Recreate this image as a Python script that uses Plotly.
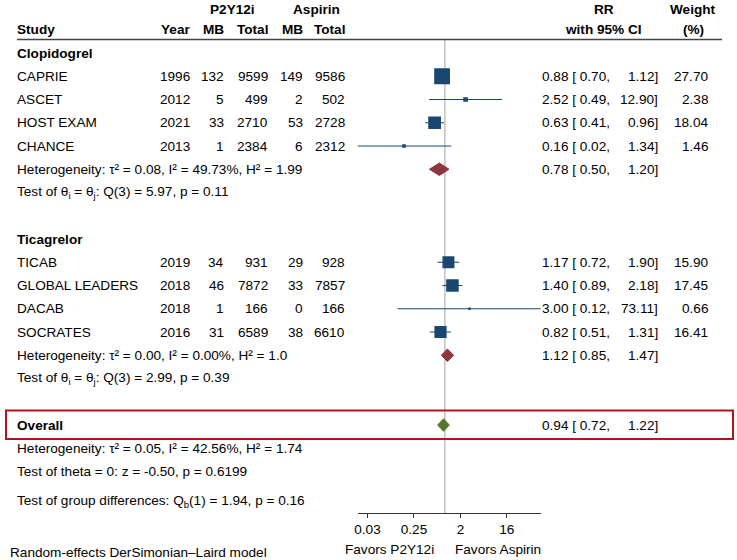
import math
import plotly.graph_objects as go

# ---------------- data ----------------
studies = ["CAPRIE", "ASCET", "HOST EXAM", "CHANCE",
           "TICAB", "GLOBAL LEADERS", "DACAB", "SOCRATES"]
study_group = ["Clopidogrel"] * 4 + ["Ticagrelor"] * 4
years = [1996, 2012, 2021, 2013, 2019, 2018, 2018, 2016]
p2y12_mb = [132, 5, 33, 1, 34, 46, 1, 31]
p2y12_total = [9599, 499, 2710, 2384, 931, 7872, 166, 6589]
aspirin_mb = [149, 2, 53, 6, 29, 33, 0, 38]
aspirin_total = [9586, 502, 2728, 2312, 928, 7857, 166, 6610]
rr = [0.88, 2.52, 0.63, 0.16, 1.17, 1.40, 3.00, 0.82]
rr_lo = [0.70, 0.49, 0.41, 0.02, 0.72, 0.89, 0.12, 0.51]
rr_hi = [1.12, 12.90, 0.96, 1.34, 1.90, 2.18, 73.11, 1.31]
weight = [27.70, 2.38, 18.04, 1.46, 15.90, 17.45, 0.66, 16.41]

groups = ["Clopidogrel", "Ticagrelor"]
group_rr = [0.78, 1.12]
group_lo = [0.50, 0.85]
group_hi = [1.20, 1.47]
group_het = ["Heterogeneity: τ² = 0.08, I² = 49.73%, H² = 1.99",
             "Heterogeneity: τ² = 0.00, I² = 0.00%, H² = 1.0"]
group_test = ["Test of θ<sub>i</sub> = θ<sub>j</sub>: Q(3) = 5.97, p = 0.11",
              "Test of θ<sub>i</sub> = θ<sub>j</sub>: Q(3) = 2.99, p = 0.39"]

overall_rr, overall_lo, overall_hi = 0.94, 0.72, 1.22
overall_het = "Heterogeneity: τ² = 0.05, I² = 42.56%, H² = 1.74"
overall_test = "Test of theta = 0: z = -0.50, p = 0.6199"
group_diff = "Test of group differences: Q<sub>b</sub>(1) = 1.94, p = 0.16"
model_note = "Random-effects DerSimonian–Laird model"

tick_vals = [2 ** -5, 2 ** -2, 2, 16]
tick_text = ["0.03", "0.25", "2", "16"]

# ---------------- layout helpers ----------------
W, H = 737, 560
FONT = "Liberation Sans, Arial, Helvetica, sans-serif"
FS = 13.6
NAVY = "#1a476f"
MAROON = "#90353b"
GREEN = "#55752f"

def px(x):
    return x / W

annotations = []

def txt(x, y, s, anchor="left", bold=False, yref="y", size=FS):
    if bold:
        s = "<b>" + s + "</b>"
    if anchor == "left":
        x -= 3
    annotations.append(dict(x=px(x), y=y, xref="paper", yref=yref, text=s,
                            showarrow=False, xanchor=anchor, yanchor="middle",
                            borderpad=0, borderwidth=0,
                            font=dict(family=FONT, size=size, color="#000")))

# column positions (pixels)
X_STUDY, X_YEAR, X_PMB, X_PTOT, X_AMB, X_ATOT = 17, 188, 222, 266, 301, 343
X_EST, X_HI, X_W = 544, 658, 708

# assign rows
study_rows = []
group_hdr_rows, group_het_rows, group_test_rows = [], [], []
row = 0
for g in groups:
    group_hdr_rows.append(row)
    row += 1
    for i, sg in enumerate(study_group):
        if sg == g:
            study_rows.append((i, row))
            row += 1
    group_het_rows.append(row)
    group_test_rows.append(row + 1)
    row += 3
overall_row = row
overall_het_row = row + 1
overall_test_row = row + 2
group_diff_row = row + 3.3

row_idx = {i: r for i, r in study_rows}
ys = [row_idx[i] for i in range(len(studies))]

# ---------------- traces ----------------
fig = go.Figure()

# CI lines
cx, cy = [], []
for i in range(len(studies)):
    cx += [rr_lo[i], rr_hi[i], None]
    cy += [ys[i], ys[i], None]
fig.add_trace(go.Scatter(x=cx, y=cy, mode="lines",
                         line=dict(color=NAVY, width=1), hoverinfo="skip",
                         showlegend=False))

# squares (area proportional to weight)
fig.add_trace(go.Scatter(x=rr, y=ys, mode="markers",
                         marker=dict(symbol="square", color=NAVY, opacity=1,
                                     size=[3 * math.sqrt(w) for w in weight],
                                     line=dict(width=0)),
                         showlegend=False, hoverinfo="skip"))

DH = 0.27
def diamond(est, lo, hi, r, color):
    fig.add_trace(go.Scatter(x=[lo, est, hi, est, lo],
                             y=[r, r - DH, r, r + DH, r],
                             mode="lines", fill="toself", fillcolor=color,
                             line=dict(color=color, width=1),
                             showlegend=False, hoverinfo="skip"))

for k, g in enumerate(groups):
    diamond(group_rr[k], group_lo[k], group_hi[k], group_het_rows[k], MAROON)
diamond(overall_rr, overall_lo, overall_hi, overall_row, GREEN)

# ---------------- text ----------------
HDR1, HDR2 = -1.85, -1.03
txt(X_STUDY, HDR2, "Study", bold=True)
txt(X_YEAR, HDR2, "Year", "right", bold=True)
txt(X_PMB, HDR2, "MB", "right", bold=True)
txt(X_PTOT, HDR2, "Total", "right", bold=True)
txt(X_AMB, HDR2, "MB", "right", bold=True)
txt(X_ATOT, HDR2, "Total", "right", bold=True)
txt(230, HDR1, "P2Y12i", "center", bold=True)
txt(315, HDR1, "Aspirin", "center", bold=True)
txt(603, HDR1, "RR", "center", bold=True)
txt(603, HDR2, "with 95% CI", "center", bold=True)
txt(693, HDR1, "Weight", "center", bold=True)
txt(693, HDR2, "(%)", "center", bold=True)

def ci_text(est, lo, hi, r):
    txt(X_EST, r, f"{est:.2f} [ {lo:.2f},", "left")
    txt(X_HI, r, f"{hi:.2f}]", "right")

for k, g in enumerate(groups):
    txt(X_STUDY, group_hdr_rows[k], g, bold=True)
    txt(X_STUDY, group_het_rows[k], group_het[k])
    txt(X_STUDY, group_test_rows[k], group_test[k])
    ci_text(group_rr[k], group_lo[k], group_hi[k], group_het_rows[k])

for i in range(len(studies)):
    r = ys[i]
    txt(X_STUDY, r, studies[i])
    txt(X_YEAR, r, str(years[i]), "right")
    txt(X_PMB, r, str(p2y12_mb[i]), "right")
    txt(X_PTOT, r, str(p2y12_total[i]), "right")
    txt(X_AMB, r, str(aspirin_mb[i]), "right")
    txt(X_ATOT, r, str(aspirin_total[i]), "right")
    ci_text(rr[i], rr_lo[i], rr_hi[i], r)
    txt(X_W, r, f"{weight[i]:.2f}", "right")

txt(X_STUDY, overall_row, "Overall", bold=True)
ci_text(overall_rr, overall_lo, overall_hi, overall_row)
txt(X_STUDY, overall_het_row, overall_het)
txt(X_STUDY, overall_test_row, overall_test)
txt(X_STUDY, group_diff_row, group_diff)

# bottom labels (paper coords)
txt(388, 1 - 549 / H, "Favors P2Y12i", "center", yref="paper")
txt(497, 1 - 549 / H, "Favors Aspirin", "center", yref="paper")
txt(10, 1 - 552 / H, model_note, "left", yref="paper")

# ---------------- axes / shapes ----------------
Y_TOP_ROW = -53 / 23.25
Y_BOT_ROW = (513 - 53) / 23.25

shapes = [
    dict(type="line", xref="paper", yref="y", x0=px(14), x1=px(722),
         y0=-0.58, y1=-0.58, line=dict(color="#444", width=1.5)),
    dict(type="line", xref="x", yref="y", x0=1, x1=1, y0=-0.58, y1=Y_BOT_ROW,
         line=dict(color="#a0a0a0", width=1), layer="below"),
    dict(type="rect", xref="paper", yref="y", x0=px(3), x1=px(733),
         y0=overall_row - 0.62, y1=overall_row + 0.6,
         line=dict(color="#b3131b", width=2)),
]

x_min = min(rr_lo)
x_max = max(rr_hi)

fig.update_layout(
    width=W, height=H,
    margin=dict(l=0, r=0, t=0, b=0),
    paper_bgcolor="white", plot_bgcolor="white",
    font=dict(family=FONT, size=FS, color="#000"),
    showlegend=False,
    xaxis=dict(type="log", range=[math.log10(x_min), math.log10(x_max)],
               domain=[356 / W, 540 / W], tickvals=tick_vals,
               ticktext=tick_text, showline=True, linecolor="#333",
               linewidth=1, ticks="outside", ticklen=4, tickcolor="#333",
               showgrid=False, zeroline=False,
               tickfont=dict(family=FONT, size=FS, color="#000")),
    yaxis=dict(visible=False, range=[Y_BOT_ROW, Y_TOP_ROW],
               domain=[(H - 513) / H, 1], showgrid=False, zeroline=False),
    annotations=annotations,
    shapes=shapes,
)

fig.write_html("out.html",
               config={"displayModeBar": False},
               post_script="document.body.style.margin='0';"
                           "document.body.style.overflow='hidden';")
